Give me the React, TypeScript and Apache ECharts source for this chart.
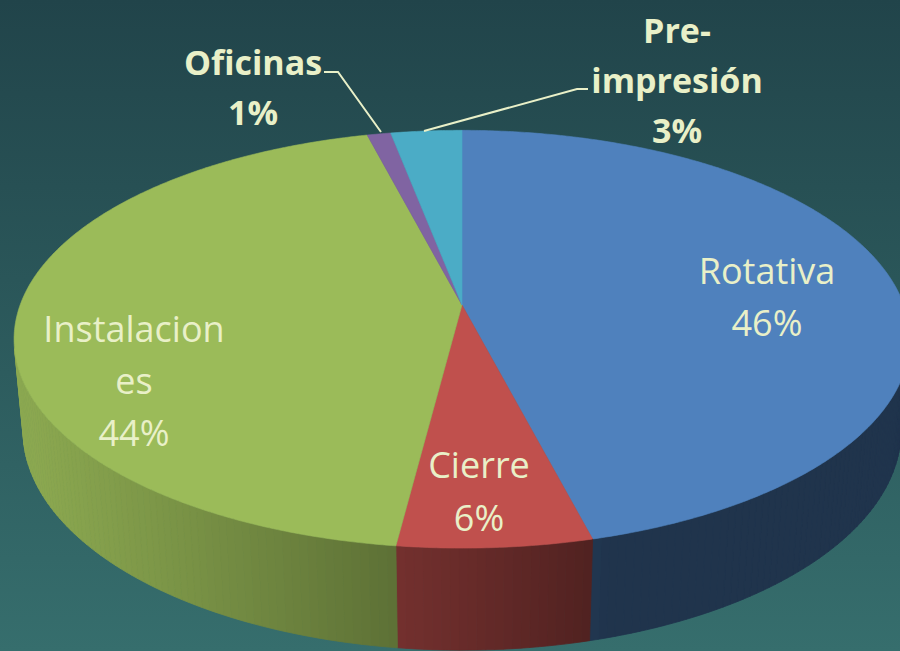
import React, { useEffect, useRef } from 'react';
import * as echarts from 'echarts';

// ---- data ----
const categories = ['Rotativa', 'Cierre', 'Instalaciones', 'Oficinas', 'Pre-impresión'];
const values = [46, 6, 44, 1, 3];
const labelNames = ['Rotativa', 'Cierre', 'Instalacion\nes', 'Oficinas', 'Pre-\nimpresión'];

// ---- styles / layout ----
const colors = ['#4F81BD', '#C0504D', '#9BBB59', '#8064A2', '#4BACC6'];
const labelAnchors = [[767, 296], [479, 491], [134, 380], [253, 87], [677, 80]];
const labelBold = [false, false, false, true, true];
const labelLineHeights = [52, 53, 52, 50, 50];
const leaderLines: Record<number, number[][]> = {
  3: [[324, 72], [338, 72], [381, 132]],
  4: [[588, 89], [577, 89], [424, 131]],
};
const TEXT_COLOR = '#E9F0C8';

// ---- 3D projection ----
const CX = 462, CY = 305, F = 2395, D = 5.42, H = 0.235;
const ALPHA = (27.39 * Math.PI) / 180;
const SA = Math.sin(ALPHA), CA = Math.cos(ALPHA);
const Z0 = 1 / (D * CA);
const VIS1 = (Math.acos(-Z0) * 180) / Math.PI;
const VIS2 = 360 - VIS1;
const LIGHT = (() => { const x = -0.958, z = 0.287, n = Math.hypot(x, z); return [x / n, z / n]; })();

function project(X: number, Y: number, Z: number): number[] {
  const depth = D - (Y * SA + Z * CA);
  return [CX + (F * X) / depth, CY - (F * (Y * CA - Z * SA)) / depth];
}
function rim(deg: number, Y: number) {
  const r = (deg * Math.PI) / 180;
  return project(Math.sin(r), Y, -Math.cos(r));
}
function shade(hex: string, f: number) {
  const n = parseInt(hex.slice(1), 16);
  const r = Math.round(((n >> 16) & 255) * f);
  const g = Math.round(((n >> 8) & 255) * f);
  const b = Math.round((n & 255) * f);
  return `rgb(${r},${g},${b})`;
}

const total = values.reduce((a, b) => a + b, 0);
const cum: number[] = [];
values.reduce((acc, v, i) => { cum[i] = acc; return acc + v; }, 0);

export default function App() {
  const ref = useRef<HTMLDivElement>(null);
  useEffect(() => {
    document.body.style.margin = '0';
    const chart = echarts.init(ref.current!, undefined, { renderer: 'svg' });

    const renderItem = (params: any, api: any) => {
      const i = params.dataIndex;
      const v = api.value(0);
      const a1 = (cum[i] / total) * 360;
      const a2 = ((cum[i] + v) / total) * 360;
      const color = colors[i];
      const children: any[] = [];
      const w1 = Math.max(a1, VIS1), w2 = Math.min(a2, VIS2);
      if (w2 > w1) {
        const n = Math.max(1, Math.ceil((w2 - w1) / 1));
        for (let k = 0; k < n; k++) {
          const da = w1 + ((w2 - w1) * k) / n;
          const db = w1 + ((w2 - w1) * (k + 1)) / n;
          const m = (((da + db) / 2) * Math.PI) / 180;
          const dot = Math.sin(m) * LIGHT[0] + -Math.cos(m) * LIGHT[1];
          const f = 0.4 + 0.5 * Math.max(0, dot);
          const c = shade(color, f);
          children.push({
            type: 'polygon',
            shape: { points: [rim(da, 0), rim(db, 0), rim(db, -H), rim(da, -H)] },
            style: { fill: c, stroke: c, lineWidth: 0.8 },
          });
        }
      }
      const pts = [project(0, 0, 0)];
      const steps = Math.max(2, Math.ceil((a2 - a1) / 0.5));
      for (let k = 0; k <= steps; k++) pts.push(rim(a1 + ((a2 - a1) * k) / steps, 0));
      children.push({
        type: 'polygon',
        shape: { points: pts },
        style: { fill: color, stroke: color, lineWidth: 0.6 },
      });
      return { type: 'group', children };
    };

    const graphics: any[] = [
      {
        type: 'rect',
        z: -100,
        silent: true,
        shape: { x: 0, y: 0, width: 900, height: 651 },
        style: {
          fill: {
            type: 'linear', x: 0, y: 0, x2: 0, y2: 1,
            colorStops: [
              { offset: 0, color: '#21444A' },
              { offset: 1, color: '#366E6D' },
            ],
          },
        },
      },
    ];
    categories.forEach((name, i) => {
      const [x, y] = labelAnchors[i];
      graphics.push({
        type: 'text',
        z: 100,
        style: {
          text: `${labelNames[i]}\n${values[i]}%`,
          x, y,
          fill: TEXT_COLOR,
          fontSize: labelBold[i] ? 34 : 36,
          fontWeight: labelBold[i] ? 'bold' : 'normal',
          fontFamily: '"Open Sans", "Noto Sans", sans-serif',
          lineHeight: labelLineHeights[i],
          align: 'center',
          verticalAlign: 'middle',
          textAlign: 'center',
          textVerticalAlign: 'middle',
        },
      });
      if (leaderLines[i]) {
        graphics.push({
          type: 'polyline',
          z: 100,
          shape: { points: leaderLines[i] },
          style: { stroke: TEXT_COLOR, lineWidth: 2, fill: 'none' },
        });
      }
    });

    chart.setOption({
      animation: false,
      graphic: graphics,
      series: [
        {
          type: 'custom',
          coordinateSystem: 'none',
          data: values.map((v, i) => ({ name: categories[i], value: [v] })),
          renderItem,
        },
      ],
    });
    return () => chart.dispose();
  }, []);
  return <div ref={ref} style={{ width: 900, height: 651 }} />;
}
